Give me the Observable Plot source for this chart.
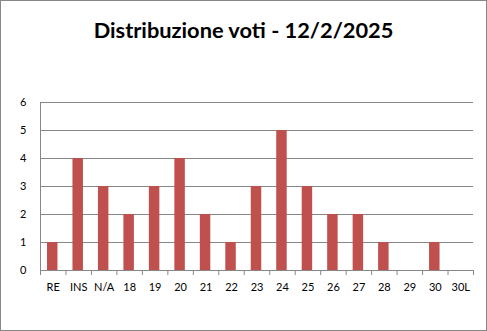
<!DOCTYPE html>
<html>
<head>
<meta charset="utf-8">
<script src="https://cdn.jsdelivr.net/npm/d3@7"></script>
<script src="https://cdn.jsdelivr.net/npm/@observablehq/plot@0.6"></script>
<style>
  html, body { margin: 0; padding: 0; background: #fff; }
  #wrap { position: relative; width: 487px; height: 331px; overflow: hidden; }
  #frame { position: absolute; left: 0; top: 0; width: 487px; height: 331px; box-sizing: border-box; border: 1px solid #878787; pointer-events: none; }
  #title { position: absolute; left: 0; top: 17px; width: 487px; text-align: center; font-family: Lato, sans-serif; font-weight: bold; font-size: 21.8px; color: #000; line-height: 26px; }
  #chart { position: absolute; left: 0; top: 0; }
</style>
</head>
<body>
<div id="wrap">
  <div id="chart"></div>
  <div id="title">Distribuzione voti - 12/2/2025</div>
  <div id="frame"></div>
</div>
<script>
const categories = ["RE", "INS", "N/A", "18", "19", "20", "21", "22", "23", "24", "25", "26", "27", "28", "29", "30", "30L"];
const counts = [1, 4, 3, 2, 3, 4, 2, 1, 3, 5, 3, 2, 2, 1, 0, 1, 0];
const yTicks = [0, 1, 2, 3, 4, 5, 6];

const data = categories.map((c, i) => ({cat: c, n: counts[i]}));

const W = 487, H = 331, mL = 40, mR = 14, mT = 102, mB = 61;
const bw = (W - mL - mR) / categories.length;
const grey = "#878787";

const chart = Plot.plot({
  width: W,
  height: H,
  marginLeft: mL,
  marginRight: mR,
  marginTop: mT,
  marginBottom: mB,
  style: {fontFamily: "Lato, sans-serif", fontSize: "11px", color: "#000", background: "transparent"},
  x: {type: "band", domain: categories, padding: 0, round: false},
  y: {domain: [0, 6]},
  marks: [
    Plot.gridY(yTicks, {stroke: grey, strokeOpacity: 1}),
    Plot.frame({anchor: "left", stroke: grey}),
    Plot.barY(data, {x: "cat", y: "n", fill: "#C0504D", insetLeft: 7, insetRight: 8}),
    Plot.axisY({ticks: yTicks, tickFormat: d3.format("d"), tickSize: 0, tickPadding: 14, label: null, fill: "#000"}),
    Plot.axisX({tickSize: 5, tickFormat: () => "", dx: -bw / 2, stroke: grey, label: null}),
    Plot.axisX({ticks: [categories[categories.length - 1]], tickSize: 5, tickFormat: () => "", dx: bw / 2, stroke: grey, label: null}),
    Plot.axisX({tickSize: 0, tickPadding: 13, label: null, fill: "#000"})
  ]
});
document.getElementById("chart").appendChild(chart);
</script>
</body>
</html>
